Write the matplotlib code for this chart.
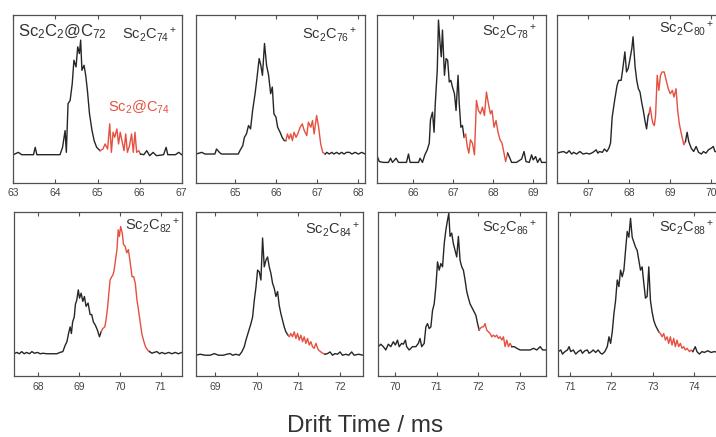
import numpy as np
import matplotlib
matplotlib.use("Agg")
import matplotlib.pyplot as plt

plt.rcParams['font.family'] = ['Liberation Sans', 'DejaVu Sans']
plt.rcParams['mathtext.fontset'] = 'custom'
plt.rcParams['mathtext.rm'] = 'Liberation Sans'
plt.rcParams['mathtext.it'] = 'Liberation Sans:italic'
plt.rcParams['mathtext.bf'] = 'Liberation Sans:bold'

# ---------------- data (drift time in ms, relative intensity) ----------------
c74_ms = [63.00, 63.12, 63.20, 63.48, 63.52, 63.56, 64.11, 64.17, 64.23, 64.26, 64.30, 64.35, 64.40, 64.44,
          64.49, 64.53, 64.57, 64.60, 64.63, 64.68, 64.72, 64.76, 64.81, 64.87, 64.92, 64.98, 65.06,
          65.13, 65.18, 65.24, 65.29, 65.33, 65.37, 65.41, 65.46, 65.50, 65.54, 65.58, 65.63, 65.67,
          65.71, 65.76, 65.81, 65.85, 65.89, 65.93, 65.98, 66.02,
          66.10, 66.17, 66.24, 66.32, 66.40, 66.57, 66.63, 66.67, 66.85, 66.93, 67.00]
c74_int = [0.166, 0.18, 0.166, 0.166, 0.21, 0.166, 0.166, 0.21, 0.31, 0.18, 0.47, 0.49, 0.59, 0.73,
           0.69, 0.81, 0.77, 0.85, 0.67, 0.70, 0.64, 0.55, 0.41, 0.31, 0.25, 0.21, 0.19,
           0.20, 0.23, 0.20, 0.35, 0.18, 0.30, 0.27, 0.32, 0.23, 0.30, 0.25, 0.19, 0.29,
           0.18, 0.22, 0.29, 0.18, 0.30, 0.18, 0.19, 0.17,
           0.166, 0.19, 0.16, 0.18, 0.16, 0.166, 0.21, 0.166, 0.166, 0.18, 0.166]
c74_red = (65.06, 66.02)

c76_ms = [64.05, 64.19, 64.27, 64.51, 64.55, 64.62, 64.67, 65.08, 65.12, 65.19, 65.23, 65.28, 65.33, 65.38,
          65.43, 65.49, 65.53, 65.59, 65.63, 65.67, 65.72, 65.77, 65.82, 65.87, 65.91, 65.95, 66.00,
          66.04, 66.10, 66.15, 66.20, 66.24, 66.28, 66.32, 66.36, 66.40, 66.44, 66.49, 66.53, 66.59,
          66.64, 66.69, 66.75, 66.79, 66.85, 66.89, 66.93, 66.99, 67.04, 67.09, 67.14, 67.20,
          67.24, 67.30, 67.36, 67.41, 67.48, 67.54, 67.60, 67.66, 67.72, 67.79, 67.85, 67.93, 68.01,
          68.09, 68.17]
c76_int = [0.17, 0.18, 0.17, 0.17, 0.20, 0.18, 0.17, 0.17, 0.19, 0.22, 0.27, 0.29, 0.34, 0.32,
           0.43, 0.53, 0.61, 0.74, 0.70, 0.64, 0.83, 0.70, 0.64, 0.53, 0.57, 0.41, 0.39,
           0.33, 0.30, 0.27, 0.25, 0.25, 0.29, 0.26, 0.29, 0.25, 0.30, 0.27, 0.29, 0.33,
           0.35, 0.31, 0.28, 0.36, 0.33, 0.37, 0.29, 0.40, 0.33, 0.23, 0.18, 0.17,
           0.18, 0.17, 0.18, 0.17, 0.18, 0.17, 0.18, 0.17, 0.18, 0.18, 0.17, 0.18, 0.17,
           0.18, 0.17]
c76_red = (66.24, 67.20)

c78_ms = [65.10, 65.15, 65.25, 65.38, 65.43, 65.48, 65.57, 65.63, 65.83, 65.88, 65.92, 66.13, 66.17, 66.23,
          66.29, 66.35, 66.40, 66.43, 66.48, 66.52, 66.55, 66.60, 66.63, 66.67, 66.70, 66.73, 66.78,
          66.82, 66.86, 66.90, 66.94, 66.98, 67.03, 67.07, 67.12, 67.15, 67.19, 67.23, 67.27,
          67.31, 67.35, 67.39, 67.43, 67.48, 67.53, 67.58, 67.63, 67.68, 67.73, 67.78, 67.83, 67.88,
          67.93, 67.97, 68.02, 68.07, 68.12, 68.17, 68.22, 68.27, 68.31, 68.36,
          68.40, 68.46, 68.58, 68.71, 68.77, 68.82, 68.90, 68.96, 69.00, 69.06, 69.11, 69.17, 69.21, 69.32]
c78_int = [0.155, 0.125, 0.12, 0.12, 0.145, 0.12, 0.145, 0.12, 0.12, 0.17, 0.12, 0.12, 0.145, 0.12,
           0.165, 0.195, 0.235, 0.375, 0.42, 0.30, 0.47, 0.67, 0.97, 0.83, 0.75, 0.91, 0.64,
           0.74, 0.73, 0.60, 0.61, 0.57, 0.53, 0.43, 0.64, 0.47, 0.33, 0.34, 0.27,
           0.29, 0.215, 0.175, 0.255, 0.235, 0.165, 0.49, 0.43, 0.41, 0.45, 0.40, 0.54, 0.47,
           0.41, 0.43, 0.33, 0.37, 0.30, 0.255, 0.235, 0.175, 0.125, 0.175,
           0.155, 0.12, 0.12, 0.14, 0.185, 0.125, 0.12, 0.165, 0.135, 0.155, 0.12, 0.145, 0.12, 0.12]
c78_red = (67.27, 68.36)

c80_ms = [66.25, 66.31, 66.40, 66.48, 66.54, 66.60, 66.65, 66.72, 66.80, 66.88, 66.96, 67.04, 67.12, 67.20,
          67.24, 67.28, 67.35, 67.40, 67.46, 67.51, 67.55, 67.59, 67.65, 67.71, 67.75, 67.81, 67.85,
          67.90, 67.94, 67.98, 68.02, 68.07, 68.10, 68.15, 68.19, 68.23, 68.27, 68.31, 68.35, 68.39,
          68.43, 68.47, 68.49, 68.52, 68.56, 68.59, 68.62, 68.65, 68.69, 68.73, 68.77, 68.81, 68.86,
          68.91, 68.96, 69.01, 69.06, 69.10, 69.15, 69.19, 69.23, 69.28, 69.34, 69.38,
          69.42, 69.46, 69.52, 69.58, 69.64, 69.70, 69.77, 69.82, 69.88, 69.94, 70.01, 70.06, 70.10,
          70.19, 70.27, 70.35]
c80_int = [0.175, 0.18, 0.185, 0.175, 0.19, 0.17, 0.18, 0.17, 0.185, 0.17, 0.175, 0.17, 0.18, 0.195,
           0.175, 0.185, 0.18, 0.20, 0.185, 0.205, 0.235, 0.39, 0.49, 0.58, 0.61, 0.61, 0.68,
           0.78, 0.66, 0.68, 0.73, 0.80, 0.87, 0.69, 0.61, 0.56, 0.54, 0.48, 0.43, 0.37,
           0.32, 0.40, 0.41, 0.45, 0.38, 0.35, 0.34, 0.40, 0.64, 0.55, 0.64, 0.66, 0.66,
           0.61, 0.56, 0.53, 0.55, 0.51, 0.56, 0.43, 0.35, 0.29, 0.225, 0.245,
           0.30, 0.245, 0.205, 0.185, 0.215, 0.18, 0.17, 0.185, 0.175, 0.195, 0.205, 0.215, 0.185,
           0.18, 0.19, 0.18]
c80_red = (68.49, 69.38)

c82_ms = [67.40, 67.47, 67.53, 67.59, 67.65, 67.71, 67.78, 67.84, 67.90, 67.98, 68.04, 68.12, 68.20, 68.29,
          68.45, 68.53, 68.60, 68.66, 68.70, 68.74, 68.78, 68.81, 68.84, 68.88, 68.91, 68.94, 68.98,
          69.01, 69.05, 69.09, 69.13, 69.17, 69.22, 69.27, 69.31, 69.35, 69.40, 69.45, 69.50, 69.54,
          69.58, 69.63, 69.66, 69.70, 69.73, 69.76, 69.80, 69.83, 69.86, 69.89, 69.93, 69.96, 69.99,
          70.02, 70.06, 70.09, 70.13, 70.17, 70.21, 70.25, 70.30, 70.34, 70.38, 70.42, 70.46, 70.50,
          70.54, 70.58, 70.63, 70.68, 70.73,
          70.79, 70.84, 70.91, 70.98, 71.03, 71.11, 71.20, 71.28, 71.36, 71.44, 71.52]
c82_int = [0.137, 0.145, 0.137, 0.15, 0.137, 0.145, 0.137, 0.15, 0.14, 0.145, 0.137, 0.14, 0.137, 0.137,
           0.137, 0.145, 0.15, 0.19, 0.21, 0.26, 0.30, 0.26, 0.33, 0.36, 0.44, 0.46, 0.525,
           0.475, 0.505, 0.455, 0.485, 0.425, 0.445, 0.375, 0.375, 0.33, 0.31, 0.28, 0.24, 0.27,
           0.29, 0.30, 0.34, 0.42, 0.505, 0.585, 0.605, 0.615, 0.645, 0.70, 0.77, 0.89, 0.85,
           0.91, 0.87, 0.80, 0.79, 0.75, 0.77, 0.70, 0.605, 0.605, 0.565, 0.465, 0.40, 0.33,
           0.26, 0.22, 0.18, 0.16, 0.15,
           0.14, 0.145, 0.15, 0.137, 0.145, 0.137, 0.145, 0.137, 0.145, 0.137, 0.145]
c82_red = (69.54, 70.73)

c84_ms = [68.54, 68.64, 68.76, 68.88, 68.98, 69.08, 69.20, 69.28, 69.36, 69.42, 69.50, 69.58, 69.64, 69.70,
          69.74, 69.80, 69.86, 69.90, 69.94, 69.98, 70.02, 70.06, 70.10, 70.14, 70.18, 70.22, 70.26,
          70.30, 70.34, 70.38, 70.42, 70.46, 70.50, 70.54, 70.58, 70.62, 70.66, 70.70, 70.75,
          70.78, 70.82, 70.86, 70.90, 70.94, 70.98, 71.02, 71.06, 71.10, 71.14, 71.18, 71.22, 71.26,
          71.30, 71.34, 71.38, 71.42, 71.48, 71.54, 71.60, 71.64,
          71.70, 71.76, 71.82, 71.88, 71.94, 72.00, 72.06, 72.14, 72.21, 72.28, 72.34, 72.44, 72.56]
c84_int = [0.128, 0.134, 0.128, 0.128, 0.138, 0.128, 0.128, 0.134, 0.138, 0.128, 0.134, 0.128, 0.148, 0.18,
           0.22, 0.27, 0.32, 0.36, 0.46, 0.54, 0.645, 0.635, 0.585, 0.84, 0.665, 0.705, 0.725,
           0.665, 0.625, 0.565, 0.535, 0.485, 0.515, 0.43, 0.38, 0.34, 0.30, 0.27, 0.25,
           0.24, 0.26, 0.24, 0.27, 0.23, 0.26, 0.22, 0.25, 0.21, 0.24, 0.20, 0.23, 0.19,
           0.21, 0.18, 0.17, 0.20, 0.16, 0.148, 0.138, 0.134,
           0.138, 0.148, 0.128, 0.138, 0.134, 0.148, 0.128, 0.134, 0.128, 0.148, 0.128, 0.134, 0.128]
c84_red = (70.75, 71.64)

c86_ms = [69.60, 69.66, 69.72, 69.78, 69.84, 69.90, 69.96, 70.01, 70.06, 70.10, 70.16, 70.20, 70.25, 70.28,
          70.34, 70.42, 70.50, 70.56, 70.60, 70.64, 70.70, 70.74, 70.78, 70.82, 70.86, 70.90, 70.94,
          70.98, 71.02, 71.06, 71.10, 71.14, 71.18, 71.22, 71.26, 71.29, 71.32, 71.36, 71.40, 71.44,
          71.48, 71.52, 71.56, 71.60, 71.64, 71.68, 71.72, 71.76, 71.80, 71.84, 71.90, 71.94, 71.98,
          72.02, 72.04, 72.08, 72.12, 72.16, 72.20, 72.24, 72.28, 72.32, 72.36, 72.40, 72.44, 72.48,
          72.52, 72.56, 72.60, 72.64, 72.68, 72.72, 72.76, 72.80,
          72.86, 72.92, 73.00, 73.08, 73.16, 73.24, 73.32, 73.40, 73.48, 73.54, 73.62]
c86_int = [0.18, 0.195, 0.18, 0.16, 0.195, 0.18, 0.21, 0.19, 0.22, 0.18, 0.20, 0.195, 0.22, 0.18,
           0.16, 0.18, 0.18, 0.20, 0.23, 0.18, 0.20, 0.30, 0.32, 0.29, 0.30, 0.40, 0.44,
           0.545, 0.695, 0.645, 0.685, 0.665, 0.805, 0.89, 0.95, 0.99, 0.85, 0.87, 0.805, 0.765,
           0.725, 0.85, 0.705, 0.665, 0.645, 0.585, 0.515, 0.475, 0.44, 0.42, 0.39, 0.37, 0.32,
           0.28, 0.29, 0.30, 0.30, 0.32, 0.28, 0.27, 0.26, 0.24, 0.25, 0.24, 0.25, 0.23,
           0.24, 0.22, 0.24, 0.18, 0.22, 0.18, 0.20, 0.18,
           0.18, 0.17, 0.16, 0.16, 0.16, 0.16, 0.17, 0.16, 0.18, 0.16, 0.16]
c86_red = (72.02, 72.80)

c88_ms = [70.72, 70.78, 70.82, 70.88, 70.94, 70.98, 71.02, 71.08, 71.14, 71.20, 71.26, 71.30, 71.36, 71.42,
          71.46, 71.52, 71.56, 71.62, 71.68, 71.74, 71.78, 71.84, 71.90, 71.94, 71.98, 72.02, 72.06,
          72.10, 72.14, 72.18, 72.22, 72.26, 72.30, 72.34, 72.38, 72.42, 72.46, 72.50, 72.54, 72.58,
          72.62, 72.66, 72.70, 72.74, 72.78, 72.82, 72.86, 72.90, 72.94, 72.98, 73.02, 73.06, 73.10,
          73.14, 73.18, 73.22, 73.26, 73.30, 73.34, 73.38, 73.42, 73.46, 73.50, 73.54, 73.58, 73.62,
          73.66, 73.70, 73.74, 73.78, 73.82, 73.88, 73.92, 73.96,
          74.02, 74.06, 74.12, 74.18, 74.24, 74.32, 74.40, 74.48, 74.56, 74.66, 74.76]
c88_int = [0.15, 0.16, 0.135, 0.15, 0.16, 0.18, 0.15, 0.16, 0.135, 0.15, 0.16, 0.14, 0.155, 0.16,
           0.14, 0.15, 0.16, 0.145, 0.16, 0.14, 0.135, 0.15, 0.18, 0.24, 0.20, 0.27, 0.38,
           0.46, 0.585, 0.545, 0.645, 0.605, 0.645, 0.765, 0.88, 0.845, 0.96, 0.845, 0.815, 0.785,
           0.765, 0.705, 0.645, 0.665, 0.565, 0.475, 0.485, 0.665, 0.46, 0.39, 0.34, 0.31, 0.29,
           0.27, 0.26, 0.24, 0.26, 0.22, 0.24, 0.20, 0.24, 0.19, 0.23, 0.18, 0.22, 0.18,
           0.20, 0.17, 0.18, 0.16, 0.17, 0.15, 0.16, 0.15,
           0.18, 0.15, 0.135, 0.15, 0.145, 0.155, 0.145, 0.15, 0.145, 0.15, 0.145]
c88_red = (73.14, 73.96)

panel_labels = ['Sc$_2$C$_{74}$$^+$', 'Sc$_2$C$_{76}$$^+$', 'Sc$_2$C$_{78}$$^+$', 'Sc$_2$C$_{80}$$^+$',
                'Sc$_2$C$_{82}$$^+$', 'Sc$_2$C$_{84}$$^+$', 'Sc$_2$C$_{86}$$^+$', 'Sc$_2$C$_{88}$$^+$']
x_ranges = [(63.0, 67.0), (64.05, 68.17), (65.10, 69.32), (66.25, 70.37),
            (67.40, 71.52), (68.54, 72.56), (69.60, 73.62), (70.72, 74.76)]
x_ticks = [[63, 64, 65, 66, 67], [65, 66, 67, 68], [66, 67, 68, 69], [67, 68, 69, 70],
           [68, 69, 70, 71], [69, 70, 71, 72], [70, 71, 72, 73], [71, 72, 73, 74]]
series = [(c74_ms, c74_int, c74_red), (c76_ms, c76_int, c76_red), (c78_ms, c78_int, c78_red),
          (c80_ms, c80_int, c80_red), (c82_ms, c82_int, c82_red), (c84_ms, c84_int, c84_red),
          (c86_ms, c86_int, c86_red), (c88_ms, c88_int, c88_red)]
x_label = 'Drift Time / ms'

# ---------------- layout ----------------
W, H = 716, 437
fig = plt.figure(figsize=(W / 100, H / 100), dpi=100)
fig.patch.set_facecolor('white')

# panel boxes in pixels: (left, top, right, bottom)
boxes = [(13.3, 15, 181.7, 182.5), (196, 15, 365, 182.5), (377.3, 15, 546, 182.5), (557.3, 15, 726, 182.5),
         (14, 211.7, 181.7, 376.3), (196, 211.7, 363.3, 376.3), (378.3, 211.7, 546, 376.3), (558.3, 211.7, 726, 376.3)]
label_pos = [(0.97, 0.88, 'right'), (0.953, 0.88, 'right'), (0.947, 0.90, 'right'), (0.928, 0.915, 'right'),
             (0.99, 0.915, 'right'), (0.98, 0.89, 'right'), (0.95, 0.90, 'right'), (0.927, 0.90, 'right')]

BLACK = '#262626'
RED = '#e5503f'
GREY = '#505050'

for i, (box, (xs, ys, red)) in enumerate(zip(boxes, series)):
    l, t, r, b = box
    ax = fig.add_axes([l / W, (H - b) / H, (r - l) / W, (b - t) / H])
    xs = np.array(xs)
    ys = np.array(ys)
    m1 = xs <= red[0]
    m2 = (xs >= red[0]) & (xs <= red[1])
    m3 = xs >= red[1]
    ax.plot(xs[m1], ys[m1], color=BLACK, lw=1.0)
    ax.plot(xs[m2], ys[m2], color=RED, lw=1.0)
    ax.plot(xs[m3], ys[m3], color=BLACK, lw=1.0)
    ax.set_xlim(*x_ranges[i])
    ax.set_ylim(0, 1)
    ax.set_xticks(x_ticks[i])
    ax.set_yticks([])
    ax.tick_params(axis='x', direction='in', length=3, width=0.8, top=True, color=GREY,
                   labelsize=7.5, labelcolor='#444444', pad=4)
    for s in ax.spines.values():
        s.set_color(GREY)
        s.set_linewidth(0.9)
    lx, ly, ha = label_pos[i]
    ax.text(lx, ly, panel_labels[i], transform=ax.transAxes, ha=ha, va='center',
            fontsize=10.5, color='#333333')
    if i == 0:
        ax.text(0.028, 0.90, 'Sc$_2$C$_2$@C$_{72}$', transform=ax.transAxes, ha='left', va='center',
                fontsize=12, color='#333333')
        ax.text(0.56, 0.45, 'Sc$_2$@C$_{74}$', transform=ax.transAxes, ha='left', va='center',
                fontsize=10.5, color=RED)

fig.text(365 / W, 1 - 432 / H, x_label, ha='center', va='baseline', fontsize=17.5, color='#333333')

fig.savefig('out.png', dpi=100)
